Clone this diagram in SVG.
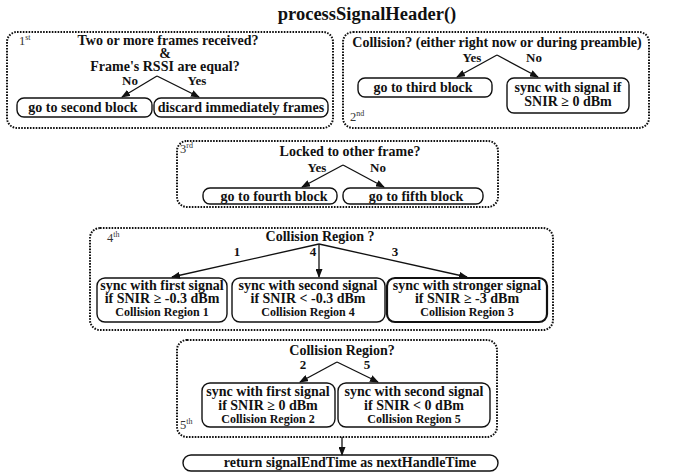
<svg xmlns="http://www.w3.org/2000/svg" width="673" height="474" viewBox="0 0 673 474">
<style>
text{font-family:"Liberation Serif","DejaVu Serif",serif;font-weight:bold;fill:#111;text-anchor:middle}
.t{font-size:14px}
.l{font-size:13px}
.s{font-size:12px}
.title{font-size:18.5px}
.ord{font-size:12.5px;font-weight:normal;text-anchor:start;fill:#333}
.sup{font-size:8px}
.blk{fill:none;stroke:#111;stroke-width:2;stroke-dasharray:1.6 1.3;stroke-linecap:butt}
.box{fill:#fff;stroke:#111;stroke-width:1.4}
.bold{stroke-width:2.2}
.con line{stroke:#111;stroke-width:1.3;marker-end:url(#ah)}
</style>
<defs>
<marker id="ah" markerUnits="userSpaceOnUse" markerWidth="9" markerHeight="7" refX="8" refY="3.5" orient="auto">
<path d="M0,0 L9,3.5 L0,7 z" fill="#111"/>
</marker>
</defs>
<rect width="673" height="474" fill="#fff"/>
<text class="title" x="367" y="20">processSignalHeader()</text>

<g id="block1">
<rect class="blk" x="7" y="32" width="326" height="96" rx="10"/>
<text class="ord" x="19" y="45">1<tspan class="sup" dy="-5">st</tspan></text>
<text class="t" x="168" y="45">Two or more frames received?</text>
<text class="t" x="165" y="58">&amp;</text>
<text class="t" x="165" y="71">Frame's RSSI are equal?</text>
<text class="l" x="130" y="85">No</text>
<text class="l" x="197" y="85">Yes</text>
</g>
<g id="box-second"><rect class="box" x="17" y="98" width="135" height="19" rx="7"/><text class="t" x="83" y="112">go to second block</text></g>
<g id="box-discard"><rect class="box" x="154" y="98" width="174" height="19" rx="7"/><text class="t" x="241" y="112">discard immediately frames</text></g>

<g id="block2">
<rect class="blk" x="343" y="32" width="306" height="96" rx="10"/>
<text class="t" x="497" y="47">Collision? (either right now or during preamble)</text>
<text class="l" x="472" y="62">Yes</text>
<text class="l" x="534" y="62">No</text>
<text class="ord" x="350" y="121">2<tspan class="sup" dy="-5">nd</tspan></text>
</g>
<g id="box-third"><rect class="box" x="358" y="78" width="134" height="19" rx="7"/><text class="t" x="423" y="92">go to third block</text></g>
<g id="box-sync"><rect class="box" x="507" y="78" width="122" height="35" rx="7"/><text class="t" x="568" y="92">sync with signal if</text><text class="t" x="568" y="106">SNIR ≥ 0 dBm</text></g>

<g id="block3">
<rect class="blk" x="177" y="141" width="321" height="66" rx="10"/>
<text class="ord" x="180" y="153">3<tspan class="sup" dy="-5">rd</tspan></text>
<text class="t" x="350" y="156">Locked to other frame?</text>
<text class="l" x="317" y="172">Yes</text>
<text class="l" x="378" y="172">No</text>
</g>
<g id="box-fourth"><rect class="box" x="203" y="188" width="134" height="16" rx="7"/><text class="t" x="274" y="201">go to fourth block</text></g>
<g id="box-fifth"><rect class="box" x="343" y="188" width="140" height="16" rx="7"/><text class="t" x="416" y="201">go to fifth block</text></g>

<g id="block4">
<rect class="blk" x="90" y="228" width="463" height="102" rx="10"/>
<text class="ord" x="107" y="242">4<tspan class="sup" dy="-5">th</tspan></text>
<text class="t" x="320" y="241">Collision Region ?</text>
<text class="l" x="237" y="256">1</text>
<text class="l" x="313" y="256">4</text>
<text class="l" x="395" y="256">3</text>
</g>
<g id="box-cr1"><rect class="box" x="97" y="278" width="130" height="44" rx="8"/><text class="t" x="162" y="290">sync with first signal</text><text class="t" x="162" y="303">if SNIR ≥ -0.3 dBm</text><text class="s" x="162" y="316">Collision Region 1</text></g>
<g id="box-cr4"><rect class="box" x="232" y="278" width="153" height="44" rx="8"/><text class="t" x="308" y="290">sync with second signal</text><text class="t" x="308" y="303">if SNIR &lt; -0.3 dBm</text><text class="s" x="308" y="316">Collision Region 4</text></g>
<g id="box-cr3"><rect class="box bold" x="387" y="278" width="160" height="44" rx="8"/><text class="t" x="467" y="290">sync with stronger signal</text><text class="t" x="467" y="303">if SNIR ≥ -3 dBm</text><text class="s" x="467" y="316">Collision Region 3</text></g>

<g id="block5">
<rect class="blk" x="177" y="340" width="320" height="97" rx="10"/>
<text class="t" x="342" y="355">Collision Region?</text>
<text class="l" x="303" y="369">2</text>
<text class="l" x="367" y="369">5</text>
<text class="ord" x="180" y="429">5<tspan class="sup" dy="-5">th</tspan></text>
</g>
<g id="box-cr2"><rect class="box" x="202" y="383" width="133" height="44" rx="8"/><text class="t" x="268" y="396">sync with first signal</text><text class="t" x="268" y="410">if SNIR ≥ 0 dBm</text><text class="s" x="268" y="423">Collision Region 2</text></g>
<g id="box-cr5"><rect class="box" x="338" y="383" width="152" height="44" rx="8"/><text class="t" x="414" y="396">sync with second signal</text><text class="t" x="414" y="410">if SNIR &lt; 0 dBm</text><text class="s" x="414" y="423">Collision Region 5</text></g>

<g id="box-return"><rect class="box" x="183" y="455" width="315" height="16" rx="8"/><text class="t" x="350" y="467">return signalEndTime as nextHandleTime</text></g>

<g id="connectors" class="con">
<line x1="157" y1="76" x2="122" y2="97"/>
<line x1="157" y1="76" x2="199" y2="97"/>
<line x1="497" y1="55" x2="457" y2="77"/>
<line x1="497" y1="55" x2="538" y2="77"/>
<line x1="343" y1="165" x2="302" y2="187"/>
<line x1="343" y1="165" x2="384" y2="187"/>
<line x1="319" y1="244" x2="172" y2="277"/>
<line x1="319" y1="244" x2="319" y2="277"/>
<line x1="319" y1="244" x2="467" y2="277"/>
<line x1="337" y1="362" x2="300" y2="382"/>
<line x1="337" y1="362" x2="378" y2="382"/>
<line x1="342" y1="437" x2="342" y2="455"/>
</g>
</svg>
